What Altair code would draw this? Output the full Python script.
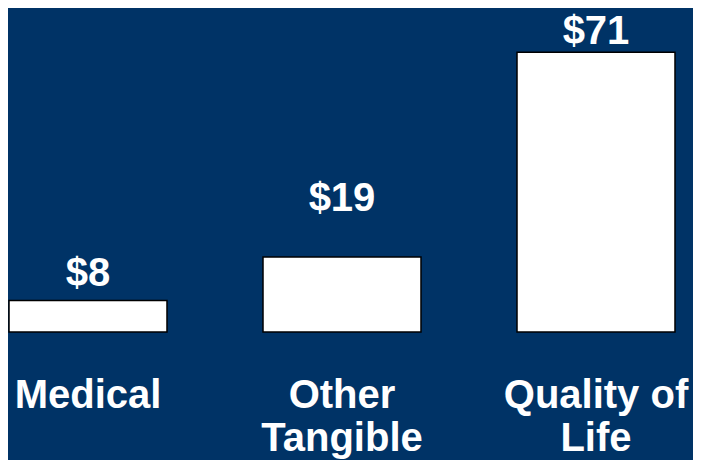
import altair as alt
import pandas as pd

# Data
categories = ["Medical", "Other\nTangible", "Quality of\nLife"]
values = [8, 19, 71]
# heights (in data units) at which the value annotations sit
label_heights = [11.7, 30.7, 73.1]

df = pd.DataFrame({"category": categories, "value": values, "label_y": label_heights})

BG = "#003366"
FONT = "Liberation Sans"
FS = 40

x = alt.X(
    "category:N",
    sort=categories,
    scale=alt.Scale(range=[-47, 715], paddingInner=0.378, paddingOuter=0.189),
    axis=alt.Axis(
        title=None,
        domain=False,
        ticks=False,
        labelAngle=0,
        labelFont=FONT,
        labelFontSize=FS,
        labelFontWeight="bold",
        labelColor="white",
        labelLineHeight=43,
        labelBaseline="alphabetic",
        labelPadding=75,
        labelLimit=0,
        labelOverlap=False,
        labelBound=False,
        labelExpr="split(datum.label, '\\n')",
    ),
)
yscale = alt.Scale(domain=[0, 82.2])

bars = alt.Chart(df).mark_bar(
    color="white", stroke="black", strokeWidth=1.5
).encode(
    x=x,
    y=alt.Y("value:Q", scale=yscale, axis=None),
)

labels = alt.Chart(df).transform_calculate(
    txt="'$' + datum.value"
).mark_text(
    font=FONT, fontSize=FS, fontWeight="bold", color="white",
    align="center", baseline="alphabetic",
).encode(
    x=x,
    y=alt.Y("label_y:Q", scale=yscale, axis=None),
    text="txt:N",
)

chart = alt.layer(bars, labels).properties(
    width=685,
    height=324,
    background=BG,
    padding={"left": 0, "top": 0, "right": 0, "bottom": 128},
    autosize=alt.AutoSizeParams(type="none"),
).configure_view(strokeWidth=0)

chart.save("out.html", embed_options={"renderer": "svg", "actions": False})
